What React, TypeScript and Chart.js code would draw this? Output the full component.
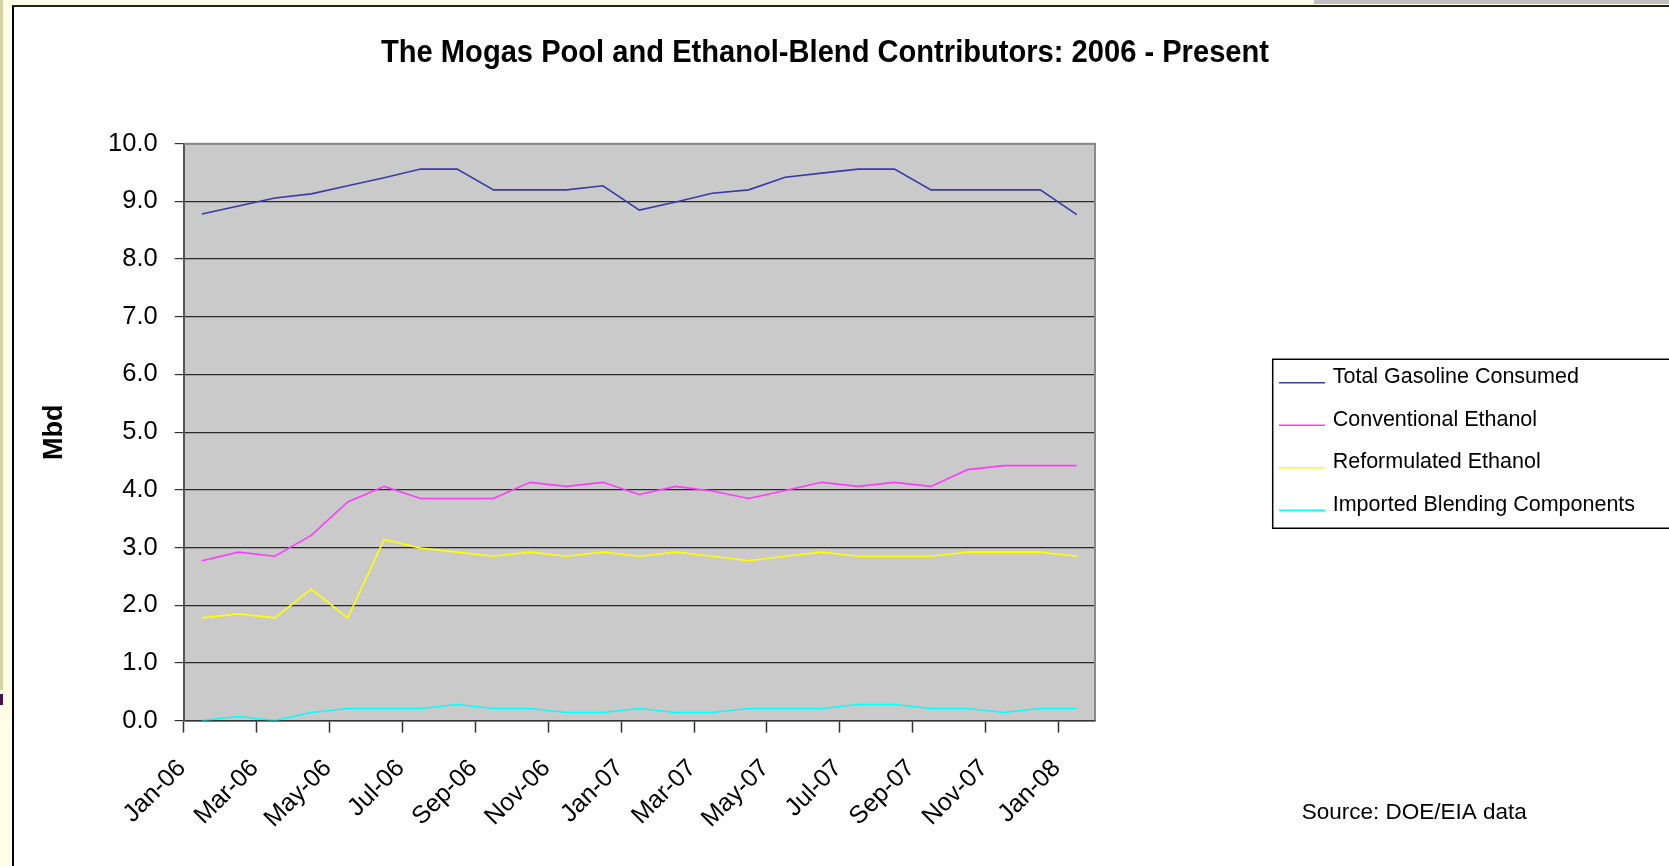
import React, { useEffect, useRef } from 'react';
import { Chart, registerables } from 'chart.js';

Chart.register(...registerables);

const months = [
  'Jan-06', 'Feb-06', 'Mar-06', 'Apr-06', 'May-06', 'Jun-06', 'Jul-06', 'Aug-06', 'Sep-06', 'Oct-06', 'Nov-06', 'Dec-06',
  'Jan-07', 'Feb-07', 'Mar-07', 'Apr-07', 'May-07', 'Jun-07', 'Jul-07', 'Aug-07', 'Sep-07', 'Oct-07', 'Nov-07', 'Dec-07',
  'Jan-08',
];

const totalGasoline = [8.78, 8.92, 9.06, 9.13, 9.27, 9.41, 9.56, 9.56, 9.2, 9.2, 9.2, 9.27, 8.85, 8.99, 9.14, 9.2, 9.42, 9.49, 9.56, 9.56, 9.2, 9.2, 9.2, 9.2, 8.77];
const conventionalEthanol = [2.77, 2.92, 2.85, 3.21, 3.79, 4.06, 3.85, 3.85, 3.85, 4.13, 4.06, 4.13, 3.92, 4.06, 3.98, 3.85, 3.99, 4.13, 4.06, 4.13, 4.06, 4.35, 4.42, 4.42, 4.42];
const reformulatedEthanol = [1.78, 1.85, 1.78, 2.28, 1.78, 3.14, 2.99, 2.92, 2.85, 2.92, 2.85, 2.92, 2.85, 2.92, 2.85, 2.77, 2.85, 2.92, 2.85, 2.85, 2.85, 2.92, 2.92, 2.92, 2.85];
const importedBlending = [0.0, 0.07, 0.0, 0.14, 0.21, 0.21, 0.21, 0.28, 0.21, 0.21, 0.14, 0.14, 0.21, 0.14, 0.14, 0.21, 0.21, 0.21, 0.28, 0.28, 0.21, 0.21, 0.14, 0.21, 0.21];

const seriesNames = ['Total Gasoline Consumed', 'Conventional Ethanol', 'Reformulated Ethanol', 'Imported Blending Components'];
const seriesColors = ['#3B3BA8', '#FF3CFF', '#FFFF00', '#00FFFF'];

const chartTitle = 'The Mogas Pool and Ethanol-Blend Contributors: 2006 - Present';
const yAxisTitle = 'Mbd';
const sourceNote = 'Source: DOE/EIA data';
const yMin = 0;
const yMax = 10;
const yStep = 1;

const FONT = '"Liberation Sans", Arial, Helvetica, sans-serif';

const decorPlugin = {
  id: 'decor',
  beforeDraw(chart: any) {
    const { ctx, chartArea: a } = chart;
    ctx.save();
    ctx.fillStyle = '#CACACA';
    ctx.fillRect(a.left, a.top, a.right - a.left, a.bottom - a.top);
    ctx.restore();
  },
  beforeDatasetsDraw(chart: any) {
    const { ctx, chartArea: a } = chart;
    ctx.save();
    ctx.strokeStyle = '#8A8A8A';
    ctx.lineWidth = 2;
    ctx.beginPath();
    ctx.moveTo(a.left, a.top);
    ctx.lineTo(a.right, a.top);
    ctx.lineTo(a.right, a.bottom);
    ctx.stroke();
    ctx.restore();
  },
  afterDraw(chart: any) {
    const { ctx } = chart;
    ctx.save();
    // Title (condensed bold)
    ctx.font = `bold 31px ${FONT}`;
    ctx.fillStyle = '#000';
    ctx.textBaseline = 'alphabetic';
    ctx.textAlign = 'center';
    const w = ctx.measureText(chartTitle).width;
    const sx = 888 / w;
    ctx.save();
    ctx.translate(825, 61.7);
    ctx.scale(sx, 1);
    ctx.fillText(chartTitle, 0, 0);
    ctx.restore();

    // Legend box
    const boxLeft = 1272.7;
    const boxTop = 359.3;
    const boxBottom = 528.3;
    ctx.strokeStyle = '#000';
    ctx.lineWidth = 1.5;
    ctx.beginPath();
    ctx.moveTo(1672, boxTop);
    ctx.lineTo(boxLeft, boxTop);
    ctx.lineTo(boxLeft, boxBottom);
    ctx.lineTo(1672, boxBottom);
    ctx.stroke();
    ctx.font = `21.5px ${FONT}`;
    ctx.textAlign = 'left';
    ctx.textBaseline = 'alphabetic';
    chart.data.datasets.forEach((ds: any, i: number) => {
      const y = boxTop + 23.4 + i * 42.5;
      ctx.strokeStyle = ds.borderColor;
      ctx.lineWidth = 1.5;
      ctx.beginPath();
      ctx.moveTo(1279, y);
      ctx.lineTo(1325, y);
      ctx.stroke();
      ctx.fillStyle = '#000';
      ctx.fillText(ds.label, 1332.7, y + 0.5);
    });

    // Source note
    ctx.font = `22.5px ${FONT}`;
    ctx.fillStyle = '#000';
    ctx.fillText(sourceNote, 1301.7, 819.3);
    ctx.restore();
  },
};

export default function App() {
  const canvasRef = useRef<HTMLCanvasElement | null>(null);

  useEffect(() => {
    const canvas = canvasRef.current;
    if (!canvas) return;
    const seriesData = [totalGasoline, conventionalEthanol, reformulatedEthanol, importedBlending];
    const chart = new Chart(canvas, {
      type: 'line',
      data: {
        labels: months,
        datasets: seriesNames.map((name, i) => ({
          label: name,
          data: seriesData[i],
          borderColor: seriesColors[i],
          backgroundColor: seriesColors[i],
          borderWidth: 1.6,
          pointRadius: 0,
          pointHoverRadius: 0,
          tension: 0,
          fill: false,
        })),
      },
      options: {
        responsive: false,
        animation: false,
        devicePixelRatio: 1,
        layout: { padding: { top: 143.7, right: 574, bottom: 0, left: 0 } },
        plugins: {
          legend: { display: false },
          title: { display: false },
          tooltip: { enabled: false },
        },
        scales: {
          x: {
            type: 'category',
            offset: true,
            afterFit: (scale: any) => {
              scale.height = 145.4;
            },
            grid: {
              offset: true,
              drawOnChartArea: false,
              drawTicks: true,
              tickLength: 12,
              tickWidth: 1.5,
              tickColor: (ctx: any) => (ctx.index % 2 === 0 ? '#333' : 'rgba(0,0,0,0)'),
            },
            border: { display: true, color: '#333', width: 1.5 },
            ticks: {
              autoSkip: false,
              maxRotation: 45,
              minRotation: 45,
              labelOffset: -20,
              padding: 21,
              color: '#000',
              font: { family: FONT, size: 25 },
              callback: (_v: any, idx: number) => (idx % 2 === 0 ? months[idx] : ''),
            },
          },
          y: {
            min: yMin,
            max: yMax,
            afterFit: (scale: any) => {
              scale.width = 183.7;
            },
            grid: {
              color: '#2A2A2A',
              lineWidth: 1.2,
              drawTicks: true,
              tickLength: 9,
              tickColor: '#333',
            },
            border: { display: true, color: '#555', width: 2 },
            ticks: {
              stepSize: yStep,
              padding: 17,
              color: '#000',
              font: { family: FONT, size: 25.5 },
              callback: (v: any) => Number(v).toFixed(1),
            },
            title: {
              display: true,
              text: yAxisTitle,
              color: '#000',
              font: { family: FONT, size: 27, weight: 'bold' },
              padding: { top: 38, bottom: 0 },
            },
          },
        },
      },
      plugins: [decorPlugin],
    } as any);
    return () => chart.destroy();
  }, []);

  return (
    <div
      style={{
        position: 'absolute',
        left: 0,
        top: 0,
        width: 1669,
        height: 866,
        overflow: 'hidden',
        background: '#FFFDE5',
      }}
    >
      <div style={{ position: 'absolute', left: 0, top: 0, width: 3, height: 690, background: '#D6D2A6' }} />
      <div style={{ position: 'absolute', left: 0, top: 694, width: 3, height: 11, background: '#4B1048' }} />
      <div style={{ position: 'absolute', left: 1314, top: 0, width: 355, height: 4, background: '#BFBFBF' }} />
      <div
        style={{
          position: 'absolute',
          left: 12,
          top: 5,
          width: 1657,
          height: 861,
          background: '#FFFFFF',
          borderLeft: '2px solid #000',
          borderTop: '2px solid #222',
          boxSizing: 'border-box',
        }}
      />
      <canvas
        ref={canvasRef}
        width={1669}
        height={866}
        style={{ position: 'absolute', left: 0, top: 0, width: 1669, height: 866, display: 'block' }}
      />
    </div>
  );
}
